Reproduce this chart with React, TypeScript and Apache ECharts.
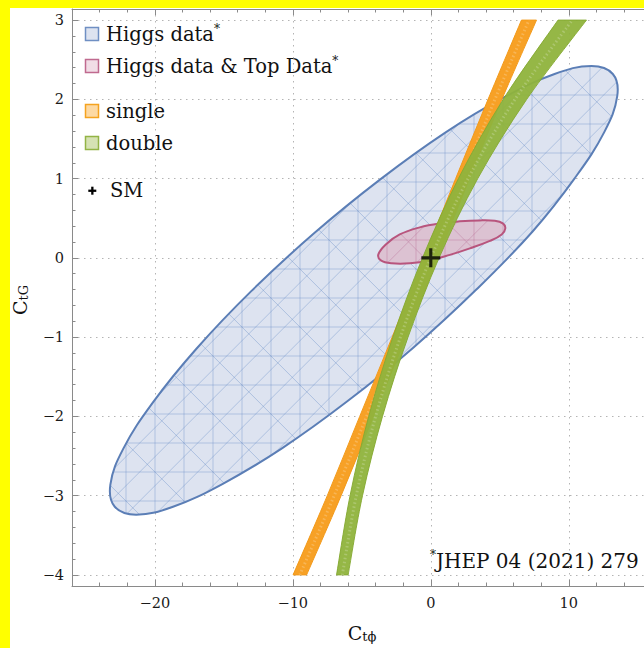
import React, { useEffect, useRef } from "react";
import * as echarts from "echarts";

const FONT = "'DejaVu Serif', 'Liberation Serif', serif";

// Axis ranges and ticks
const X_RANGE = [-26, 15.45];
const Y_RANGE = [-4.14, 3.14];
const xMajorTicks = [-20, -10, 0, 10];
const xMinorTicks = [-26, -24, -22, -18, -16, -14, -12, -8, -6, -4, -2, 2, 4, 6, 8, 12, 14];
const yMajorTicks = [-4, -3, -2, -1, 0, 1, 2, 3];
const yMinorTicks: number[] = [];
for (let k = -20; k <= 15; k++) if (k % 5 !== 0) yMinorTicks.push(k / 5);

// Higgs data region (boundary of the allowed area)
const higgsX = [13.19, 13.51, 12.58, 10.45, 7.36, 3.3, -1.25, -6.05, -10.76, -15.07, -18.68, -21.35, -22.9, -23.22, -22.29, -20.16, -17.0, -13.01, -8.46, -3.66, 1.05, 5.36, 8.97, 11.64];
const higgsY = [2.32, 2.04, 1.59, 1.01, 0.33, -0.4, -1.13, -1.81, -2.4, -2.85, -3.14, -3.24, -3.14, -2.86, -2.41, -1.83, -1.15, -0.42, 0.31, 0.99, 1.58, 2.03, 2.32, 2.42];

// Higgs data & Top data region
const topX = [-3.8, -3.26, -2.25, -0.8, 0.65, 2.1, 3.55, 4.64, 5.22, 5.4, 5.14, 4.28, 2.83, 1.38, -0.07, -1.52, -2.83, -3.62];
const topY = [0.044, 0.17, 0.296, 0.385, 0.435, 0.461, 0.473, 0.467, 0.435, 0.372, 0.296, 0.214, 0.12, 0.038, -0.032, -0.069, -0.069, -0.032];

// Bands: left / right edges at given C_tG levels
const bandY = [-4, -3, -2, -1, 0, 1, 2, 3];
const singleLo = [-9.98, -7.5, -5.15, -2.8, -0.5, 1.8, 4.15, 6.57];
const singleHi = [-9.0, -6.5, -4.15, -1.8, 0.5, 2.8, 5.15, 7.66];
const doubleLo = [-6.83, -5.85, -4.5, -2.75, -0.6, 2.0, 5.25, 9.22];
const doubleHi = [-5.99, -4.95, -3.5, -1.65, 0.6, 3.4, 6.95, 11.28];

// Standard Model point
const smPoint = [0, 0];

const minus = (v: number) => String(v).replace("-", "\u2212");

function meshLines(pts: number[][], step: number, color: string) {
  const xs = pts.map((p) => p[0]);
  const ys = pts.map((p) => p[1]);
  const x0 = Math.min(...xs) - step, x1 = Math.max(...xs) + step;
  const y0 = Math.min(...ys) - step, y1 = Math.max(...ys) + step;
  const st = { stroke: color, lineWidth: 1 };
  const out: any[] = [];
  for (let x = Math.floor(x0 / step) * step; x <= x1; x += step)
    out.push({ type: "line", shape: { x1: x, y1: y0, x2: x, y2: y1 }, style: st });
  for (let y = Math.floor(y0 / step) * step; y <= y1; y += step)
    out.push({ type: "line", shape: { x1: x0, y1: y, x2: x1, y2: y }, style: st });
  const h = y1 - y0;
  for (let c = Math.floor((x0 - h) / step) * step; c <= x1; c += step) {
    out.push({ type: "line", shape: { x1: c, y1: y1, x2: c + h, y2: y0 }, style: st });
  }
  for (let c = Math.floor((x0 - h) / (2 * step)) * 2 * step; c <= x1; c += 2 * step) {
    out.push({ type: "line", shape: { x1: c, y1: y0, x2: c + h, y2: y1 }, style: st });
  }
  return out;
}

function regionSeries(name: string, xs: number[], ys: number[], fill: string, stroke: string, mesh: string, z: number) {
  return {
    name,
    type: "custom",
    coordinateSystem: "cartesian2d",
    z,
    silent: true,
    clip: true,
    data: xs.map((x, i) => [x, ys[i]]),
    renderItem: (params: any, api: any) => {
      if (params.dataIndex !== 0) return null;
      const pts = xs.map((x, i) => api.coord([x, ys[i]]));
      const shape = { points: pts, smooth: 0.4 };
      return {
        type: "group",
        children: [
          { type: "polygon", shape, style: { fill, stroke: "none" } },
          { type: "group", children: meshLines(pts, 29, mesh), clipPath: { type: "polygon", shape } },
          { type: "polygon", shape, style: { fill: "none", stroke, lineWidth: 2 } },
        ],
      };
    },
  };
}

function curveThrough(p: number[][], start: boolean) {
  let d = start ? `M${p[0][0]},${p[0][1]}` : `L${p[0][0]},${p[0][1]}`;
  for (let i = 0; i < p.length - 1; i++) {
    const a = p[Math.max(i - 1, 0)], b = p[i], c = p[i + 1], e = p[Math.min(i + 2, p.length - 1)];
    const c1 = [b[0] + (c[0] - a[0]) / 6, b[1] + (c[1] - a[1]) / 6];
    const c2 = [c[0] - (e[0] - b[0]) / 6, c[1] - (e[1] - b[1]) / 6];
    d += `C${c1[0]},${c1[1]} ${c2[0]},${c2[1]} ${c[0]},${c[1]}`;
  }
  return d;
}

function bandSeries(name: string, lo: number[], hi: number[], fill: string, stroke: string, z: number, opacity: number) {
  return {
    name,
    type: "custom",
    coordinateSystem: "cartesian2d",
    z,
    silent: true,
    clip: true,
    data: bandY.map((y, i) => [lo[i], y]),
    renderItem: (params: any, api: any) => {
      if (params.dataIndex !== 0) return null;
      const left = bandY.map((y, i) => api.coord([lo[i], y]));
      const right = bandY.map((y, i) => api.coord([hi[i], y])).reverse();
      const d = curveThrough(left, true) + curveThrough(right, false) + "Z";
      const mid = bandY.map((y, i) => api.coord([(lo[i] + hi[i]) / 2, y]));
      return {
        type: "group",
        children: [
          { type: "path", shape: { pathData: d }, style: { fill, stroke, lineWidth: 1, opacity } },
          {
            type: "path",
            shape: { pathData: curveThrough(mid, true) },
            style: { fill: "none", stroke: "rgba(255,255,255,0.22)", lineWidth: 3, lineDash: [1.5, 2.5] },
          },
        ],
      };
    },
  };
}

const SUP = { fontSize: 12, fontFamily: FONT, fill: "#111", lineHeight: 12, verticalAlign: "top" };
const TXT = { fontSize: 19.5, fontFamily: FONT, fill: "#111", lineHeight: 23 };
const FOOT = { fontSize: 20, fontFamily: FONT, fill: "#111", lineHeight: 24 };

function legendItem(y: number, label: string, fill: string, stroke: string, star: boolean) {
  return [
    { type: "rect", shape: { x: 75.5, y: y - 6.5, width: 13, height: 13 }, style: { fill, stroke, lineWidth: 1.5 } },
    {
      type: "text",
      x: 96,
      y,
      style: {
        text: `{t|${label}}` + (star ? "{s|*}" : ""),
        rich: { t: TXT, s: SUP },
        align: "left",
        verticalAlign: "middle",
      },
    },
  ];
}

const subTitle = (main: string, sub: string) => ({
  text: `{c|${main}}{s|${sub}}`,
  rich: {
    c: { fontSize: 19, fontFamily: FONT, fill: "#111", lineHeight: 19, verticalAlign: "top" },
    s: { fontSize: 13, fontFamily: FONT, fill: "#111", lineHeight: 13, padding: [10, 0, 0, 0], verticalAlign: "bottom" },
  },
  align: "center",
  verticalAlign: "middle",
});

export default function App() {
  const ref = useRef<HTMLDivElement>(null);
  useEffect(() => {
    if (!ref.current) return;
    const chart = echarts.init(ref.current, undefined, { renderer: "svg" });
    const axisColor = "#8a8a8a";
    const tickLine = { color: axisColor, width: 1 };
    const labelStyle = { fontFamily: FONT, fontSize: 14.5, color: "#1a1a1a" };
    const grid = { color: "#b4b4b4", width: 1, type: [1.5, 4.5] };
    const baseAxis = (min: number, max: number) => ({
      type: "value",
      min,
      max,
      axisLine: { onZero: false, lineStyle: tickLine },
      splitLine: { show: false },
      axisLabel: { show: false },
    });
    chart.setOption({
      animation: false,
      backgroundColor: "#ffffff",
      grid: { left: 62, top: 1, right: 0, bottom: 62, containLabel: false },
      xAxis: [
        {
          ...baseAxis(X_RANGE[0], X_RANGE[1]),
          position: "bottom",
          axisTick: { inside: true, length: 6, lineStyle: tickLine, customValues: xMajorTicks },
          axisLabel: { show: true, customValues: xMajorTicks, formatter: minus, margin: 9, ...labelStyle },
          splitLine: { show: true, lineStyle: grid },
        },
        {
          ...baseAxis(X_RANGE[0], X_RANGE[1]),
          position: "bottom",
          axisLine: { show: false, onZero: false },
          axisTick: { inside: true, length: 3.5, lineStyle: tickLine, customValues: xMinorTicks },
        },
        {
          ...baseAxis(X_RANGE[0], X_RANGE[1]),
          position: "top",
          axisTick: { inside: true, length: 6, lineStyle: tickLine, customValues: xMajorTicks },
        },
        {
          ...baseAxis(X_RANGE[0], X_RANGE[1]),
          position: "top",
          axisLine: { show: false, onZero: false },
          axisTick: { inside: true, length: 3.5, lineStyle: tickLine, customValues: xMinorTicks },
        },
      ],
      yAxis: [
        {
          ...baseAxis(Y_RANGE[0], Y_RANGE[1]),
          position: "left",
          axisTick: { inside: true, length: 6, lineStyle: tickLine, customValues: yMajorTicks },
          axisLabel: { show: true, customValues: yMajorTicks, formatter: minus, margin: 8, ...labelStyle },
          splitLine: { show: true, lineStyle: grid },
        },
        {
          ...baseAxis(Y_RANGE[0], Y_RANGE[1]),
          position: "left",
          axisLine: { show: false, onZero: false },
          axisTick: { inside: true, length: 3.5, lineStyle: tickLine, customValues: yMinorTicks },
        },
      ],
      series: [
        regionSeries("Higgs data", higgsX, higgsY, "#dde3f0", "#5b7eb6", "rgba(110,145,200,0.42)", 2),
        regionSeries("Higgs data & Top Data", topX, topY, "#dcc2d2", "#b8557d", "rgba(185,110,150,0.4)", 3),
        bandSeries("single", singleLo, singleHi, "#f7a126", "#f39a1a", 4, 1),
        bandSeries("double", doubleLo, doubleHi, "#8fb33c", "#86aa33", 5, 0.95),
        {
          name: "SM",
          type: "scatter",
          z: 6,
          silent: true,
          data: [smPoint],
          symbol: "path://M0,4.17H10V5.83H0ZM4.17,0H5.83V10H4.17Z",
          symbolSize: 19,
          itemStyle: { color: "#000" },
        },
      ],
      graphic: [
        ...legendItem(26, "Higgs data", "#dde3f0", "#6f8fc3", true),
        ...legendItem(58, "Higgs data & Top Data", "#f1dde6", "#c06a8f", true),
        ...legendItem(103, "single", "#fdd9a3", "#f5a31f", false),
        ...legendItem(135, "double", "#d6e2b3", "#93b445", false),
        { type: "rect", shape: { x: 78.3, y: 181.6, width: 8, height: 2.3 }, style: { fill: "#000" } },
        { type: "rect", shape: { x: 81.2, y: 178.7, width: 2.3, height: 8 }, style: { fill: "#000" } },
        {
          type: "text",
          x: 100,
          y: 182.7,
          style: { text: "SM", font: `19.5px ${FONT}`, fill: "#111", align: "left", verticalAlign: "middle" },
        },
        {
          type: "text",
          x: 420,
          y: 553,
          style: { text: "{s|*}{t|JHEP 04 (2021) 279}", rich: { t: FOOT, s: SUP }, align: "left", verticalAlign: "middle" },
        },
        { type: "text", x: 352, y: 625, style: subTitle("C", "t\u03d5") },
        { type: "text", x: 10, y: 292, rotation: Math.PI / 2, style: subTitle("C", "tG") },
      ],
    });
    return () => chart.dispose();
  }, []);
  return (
    <div style={{ position: "fixed", left: 0, top: 0, width: 644, height: 648, background: "#ffff00", overflow: "hidden" }}>
      <div ref={ref} style={{ position: "absolute", left: 10, top: 8, width: 634, height: 640, background: "#ffffff" }} />
    </div>
  );
}
